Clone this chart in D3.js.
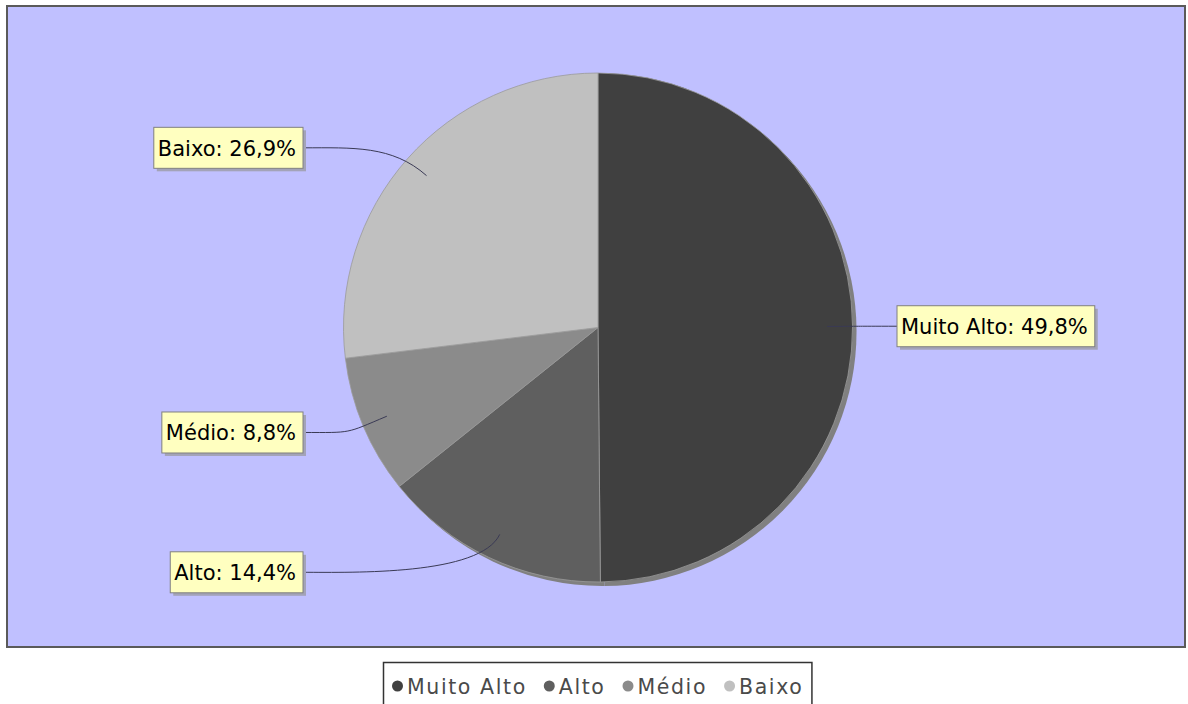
<!DOCTYPE html>
<html>
<head>
<meta charset="utf-8">
<script src="https://cdn.jsdelivr.net/npm/d3@7"></script>
<style>
  html, body { margin: 0; padding: 0; background: #ffffff; }
  svg { display: block; }
</style>
</head>
<body>
<svg id="chart" width="1188" height="704"></svg>
<script>
const categories = ["Muito Alto", "Alto", "Médio", "Baixo"];
const values = [49.8, 14.4, 8.8, 26.9];
const sliceColors = ["#404040", "#5f5f5f", "#8b8b8b", "#c0c0c0"];

const plot = { x: 7, y: 6, w: 1178, h: 641 };
const cx = 598, cy = 327.5, R = 254.5;

const svg = d3.select("#chart");
const fmt = v => v.toFixed(1).replace(".", ",") + "%";
const FONT = "DejaVu Sans, Verdana, sans-serif";

// plot background
svg.append("rect")
  .attr("x", plot.x).attr("y", plot.y)
  .attr("width", plot.w).attr("height", plot.h)
  .attr("fill", "#c0c0ff")
  .attr("stroke", "#5a5a5a").attr("stroke-width", 2);

const data = categories.map((c, i) => ({ cat: c, value: values[i], color: sliceColors[i] }));
const pie = d3.pie().sort(null).value(d => d.value).startAngle(0).endAngle(2 * Math.PI);
const arcs = pie(data);
const arc = d3.arc().innerRadius(0).outerRadius(R);

// shadow
svg.append("g").attr("transform", `translate(${cx + 4},${cy + 4})`)
  .selectAll("path").data(arcs).join("path")
  .attr("d", arc).attr("fill", "#808080");

// slices
svg.append("g").attr("transform", `translate(${cx},${cy})`)
  .selectAll("path").data(arcs).join("path")
  .attr("d", arc)
  .attr("fill", d => d.data.color)
  .attr("stroke", "#9a9a9a").attr("stroke-width", 0.8);

// labels
const linkG = svg.append("g");
const labelG = svg.append("g");
const fontSize = 21;
arcs.forEach(a => {
  const mid = (a.startAngle + a.endAngle) / 2;
  const sx = Math.sin(mid), cyv = -Math.cos(mid);
  const anchor = [cx + sx * R * 0.9, cy + cyv * R * 0.9];
  const elbow = [cx + sx * R * 1.08, cy + cyv * R * 1.08];
  const ly = cy + cyv * 271;
  const right = sx > 0;
  const text = `${a.data.cat}: ${fmt(a.data.value)}`;

  const g = labelG.append("g");
  const t = g.append("text")
    .attr("font-family", FONT)
    .attr("font-size", fontSize)
    .attr("fill", "#000")
    .text(text);
  const tw = t.node().getComputedTextLength();
  const bw = tw + 11, bh = 41;
  const bx = right ? cx + 299 : cx - 295 - bw;
  const by = ly - bh / 2;
  t.attr("x", bx + 4).attr("y", by + bh / 2 + 8);

  const edge = right ? [bx, ly] : [bx + bw, ly];
  const dirX = right ? -1 : 1;
  const path = d3.path();
  path.moveTo(edge[0], edge[1]);
  path.bezierCurveTo(edge[0] + dirX * 50, edge[1], elbow[0], elbow[1], anchor[0], anchor[1]);
  linkG.append("path")
    .attr("d", path.toString())
    .attr("fill", "none").attr("stroke", "#3a3a55").attr("stroke-width", 1);

  g.insert("rect", "text")
    .attr("x", bx + 3).attr("y", by + 3).attr("width", bw).attr("height", bh)
    .attr("fill", "#a3a3b8");
  g.insert("rect", "text")
    .attr("x", bx).attr("y", by).attr("width", bw).attr("height", bh)
    .attr("fill", "#ffffc0").attr("stroke", "#808080").attr("stroke-width", 1);
});

// legend
const leg = svg.append("g");
const legBox = leg.append("rect");
let lx = 392;
const legY = 686;
data.forEach((d, i) => {
  leg.append("circle").attr("cx", lx + 5.5).attr("cy", legY).attr("r", 5.5).attr("fill", d.color);
  const t = leg.append("text")
    .attr("x", lx + 15).attr("y", legY + 7.5)
    .attr("font-family", FONT)
    .attr("font-size", 20.5).attr("letter-spacing", 1.6).attr("fill", "#4a4a4a")
    .text(d.cat);
  const tw = t.node().getComputedTextLength();
  lx += 15 + tw + (i < data.length - 1 ? 17 : 0);
});
legBox
  .attr("x", 383.5).attr("y", 662.5).attr("width", lx - 383 + 8).attr("height", 60)
  .attr("fill", "#fff").attr("stroke", "#333").attr("stroke-width", 1.5);
</script>
</body>
</html>
